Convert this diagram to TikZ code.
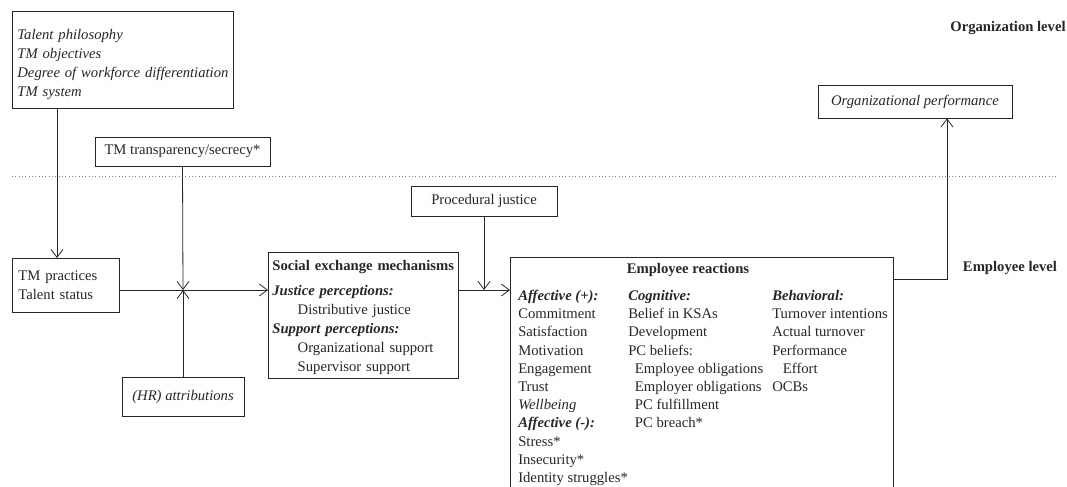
\documentclass[tikz,border=0pt]{standalone}
\usepackage{fontspec}
\setmainfont{Liberation Serif}
\usetikzlibrary{arrows.meta}
\definecolor{ink}{HTML}{262626}
\newcommand\fs{\fontsize{11}{14.25}\selectfont}
\newcommand\fse{\fontsize{11}{13.65}\selectfont}
\newcommand\bi[1]{\textbf{\textit{#1}}}
\begin{document}
\begin{tikzpicture}[x=0.75pt,y=-0.75pt]
\tikzset{
  base/.style={font=\fs, text=ink},
  box/.style={draw=ink, line width=0.6pt, inner xsep=3.75pt, inner ysep=0pt, font=\fs, text=ink},
  ibox/.style={box, font=\fs\itshape},
  col/.style={anchor=north west, inner sep=0pt, align=left, font=\fse, text=ink},
  lvl/.style={font=\fs\bfseries, text=ink, inner sep=0pt},
  arr/.style={draw=ink, line width=0.6pt, -{Straight Barb[length=6pt,width=9pt]}},
  ln/.style={draw=ink, line width=0.6pt}
}
\useasboundingbox (0,0) rectangle (1067,486);

% level separator
\draw[gray, line width=0.5pt, dotted] (12,176) -- (1057,176);
\node[lvl] (orglvl) at (1008,28) {Organization level};
\node[lvl] (emplvl) at (1010,268) {Employee level};

% boxes
\node[ibox, anchor=north west, minimum width=221*0.75pt, minimum height=97*0.75pt,
      text width=211*0.75pt, align=left, inner xsep=5*0.75pt] (org) at (12,11)
  {\rule{0pt}{14pt}Talent philosophy\\TM objectives\\Degree of workforce differentiation\\TM system};
\node[box, anchor=north west, minimum width=107*0.75pt, minimum height=54*0.75pt,
      text width=95*0.75pt, align=left, inner xsep=6*0.75pt] (tmp) at (12,258)
  {TM practices\\Talent status};
\node[box, minimum width=175*0.75pt, minimum height=29*0.75pt] (trans) at (182.5,151.5)
  {TM transparency/secrecy*};
\node[ibox, minimum width=122*0.75pt, minimum height=39*0.75pt] (hr) at (183,396.5)
  {(HR) attributions};
\node[box, anchor=north west, minimum width=190*0.75pt, minimum height=126*0.75pt,
      text width=182*0.75pt, align=left, inner xsep=4*0.75pt] (sem) at (268,252)
  {\rule{0pt}{10.8pt}\textbf{Social exchange mechanisms}\\[4.5pt]
   \bi{Justice perceptions:}\\
   \hspace*{19pt}Distributive justice\\
   \bi{Support perceptions:}\\
   \hspace*{19pt}Organizational support\\
   \hspace*{19pt}Supervisor support};
\node[box, minimum width=146*0.75pt, minimum height=30*0.75pt] (proc) at (484,201)
  {Procedural justice};
\node[ibox, minimum width=194*0.75pt, minimum height=33*0.75pt] (perf) at (915,101.5)
  {Organizational performance};

% employee reactions (bottom edge runs below the page)
\node[box, anchor=north west, minimum width=383*0.75pt, minimum height=260*0.75pt] (emp) at (510,257) {};
\node[base, font=\fs\bfseries, anchor=base, inner sep=0pt] (emptitle) at (688,273.5) {Employee reactions};
\node[col] (c1) at (518,287.5)
  {\strut\bi{Affective (+):}\\Commitment\\Satisfaction\\Motivation\\Engagement\\Trust\\\textit{Wellbeing}\\
   \bi{Affective (-):}\\Stress*\\Insecurity*\\Identity struggles*};
\node[col] (c2) at (628,287.5)
  {\strut\bi{Cognitive:}\\Belief in KSAs\\Development\\PC beliefs:\\
   \hspace*{5pt}Employee obligations\\\hspace*{5pt}Employer obligations\\
   \hspace*{5pt}PC fulfillment\\\hspace*{5pt}PC breach*};
\node[col] (c3) at (772,287.5)
  {\strut\bi{Behavioral:}\\Turnover intentions\\Actual turnover\\Performance\\
   \hspace*{8pt}Effort\\OCBs};

% connectors
\coordinate (xa) at (57,0);
\coordinate (j1) at (183,290);
\coordinate (j2) at (484,290);
\coordinate (up) at (947,279);
\draw[arr] (org.south -| xa) -- (tmp.north -| xa);
\draw[arr] (trans.south) -- (j1);
\draw[arr] (hr.north) -- (j1);
\draw[arr] (tmp.east |- j1) -- (sem.west |- j1);
\draw[arr] (proc.south) -- (j2);
\draw[arr] (sem.east |- j2) -- (emp.west |- j2);
\draw[arr] (emp.east |- up) -- (up) -- (perf.south -| up);
\end{tikzpicture}
\end{document}
